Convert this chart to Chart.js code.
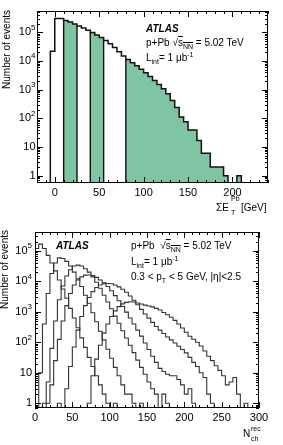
<!DOCTYPE html>
<html>
<head>
<meta charset="utf-8">
<script src="https://cdn.jsdelivr.net/npm/chart.js@4.4.1/dist/chart.umd.min.js"></script>
<style>
  body { margin: 0; background: #fff; }
  #wrap { position: relative; width: 283px; height: 445px; overflow: hidden;
          font-family: "Liberation Sans", Arial, Helvetica, sans-serif; color: #000; }
  canvas { position: absolute; left: 0; }
  .t { position: absolute; font-size: 10px; line-height: 12px; white-space: nowrap; }
  .t sub, .t sup { font-size: 7px; line-height: 0; }
  .s7 { font-size: 7px; line-height: 8px; }
  .atlas { font-weight: bold; font-style: italic; }
  .ov { text-decoration: overline; }
  .ytitle { position: absolute; width: 100px; text-align: right; font-size: 10px; line-height: 12px;
            white-space: nowrap; transform-origin: 0 0; transform: rotate(-90deg); }
</style>
</head>
<body>
<div id="wrap">
  <canvas id="topChart" width="283" height="220" style="top:0"></canvas>
  <canvas id="bottomChart" width="283" height="225" style="top:220px"></canvas>

  <!-- top panel labels -->
  <div class="t atlas" style="left:146px; top:23px">ATLAS</div>
  <div class="t" style="left:146px; top:37px">p+Pb √<span class="ov">s<sub>NN</sub></span> = 5.02 TeV</div>
  <div class="t" style="left:146px; top:52px">L<sub>int</sub>= 1 μb<sup>-1</sup></div>
  <div class="ytitle" style="left:1px; top:110px">Number of events</div>
  <div class="t" style="left:216px; top:202px">ΣE</div>
  <div class="t s7" style="left:231px; top:195px">Pb</div>
  <div class="t s7" style="left:231px; top:209px">T</div>
  <div class="t" style="left:241px; top:202px">[GeV]</div>

  <!-- bottom panel labels -->
  <div class="t atlas" style="left:56px; top:240px">ATLAS</div>
  <div class="t" style="left:131px; top:240px">p+Pb &nbsp;√<span class="ov">s<sub>NN</sub></span> = 5.02 TeV</div>
  <div class="t" style="left:131px; top:256px">L<sub>int</sub>= 1 μb<sup>-1</sup></div>
  <div class="t" style="left:131px; top:271px">0.3 &lt; p<sub>T</sub> &lt; 5 GeV, |η|&lt;2.5</div>
  <div class="ytitle" style="left:-1px; top:330px">Number of events</div>
  <div class="t" style="left:243px; top:428px">N</div>
  <div class="t s7" style="left:251px; top:425px">rec</div>
  <div class="t s7" style="left:251px; top:435px">ch</div>
</div>

<script>
/* top panel: sum ET (Pb side), 5 GeV bins, lower edges */
const etEdges = [-5, 0, 5, 10, 15, 20, 25, 30, 35, 40, 45, 50, 55, 60, 65, 70, 75, 80, 85, 90, 95,
  100, 105, 110, 115, 120, 125, 130, 135, 140, 145, 150, 155, 160, 165, 170, 175, 180, 185, 190, 195, 200, 205];
const etCounts = [22000, 300000, 300000,
  260000, 230000, 195000, 166000, 141000, 117000, 98000, 81000, 66000, 52000,
  40000, 29500, 21000, 15000, 11200, 8700, 6800, 5100, 3900, 2900,
  2100, 1500, 1070, 720, 420, 240, 112, 76, 39, 39,
  17, 6, 6, 2, 2, 2, 1, 0, 0, 1];
// shaded centrality intervals
const etGreen = [[10, 25], [40, 55], [80, 210]];
const etTicks = [0, 50, 100, 150, 200];

/* bottom panel: N_ch^rec per centrality interval, 5-wide bins */
const nchEdges = [0, 5, 10, 15, 20, 25, 30, 35, 40, 45, 50, 55, 60, 65, 70, 75, 80, 85, 90, 95,
  100, 105, 110, 115, 120, 125, 130, 135, 140, 145, 150, 155, 160, 165, 170, 175, 180, 185, 190, 195,
  200, 205, 210, 215, 220, 225, 230, 235, 240, 245, 250, 255, 260, 265, 270, 275, 280, 285, 290, 295];
const nch1 = [120000, 166000, 120000, 71000, 40000, 22000, 11000, 5600, 2800, 1300,
  630, 300, 140, 68, 32, 16, 8, 4, 2, 1,
  0, 1, 0, 0, 0, 0, 0, 0, 0, 0,
  0, 0, 0, 0, 0, 0, 0, 0, 0, 0,
  0, 0, 0, 0, 0, 0, 0, 0, 0, 0,
  0, 0, 0, 0, 0, 0, 0, 0, 0, 0];
const nch2 = [0, 10, 400, 4000, 18000, 40000, 59000, 56000, 45000, 32000,
  20000, 12000, 6800, 3500, 1900, 930, 470, 230, 120, 59,
  30, 15, 8, 4, 2, 2, 1, 0, 1, 0,
  0, 0, 0, 0, 0, 0, 0, 0, 0, 0,
  0, 0, 0, 0, 0, 0, 0, 0, 0, 0,
  0, 0, 0, 0, 0, 0, 0, 0, 0, 0];
const nch3 = [0, 0, 1, 5, 63, 500, 2500, 7000, 15000, 24000,
  32000, 34000, 32000, 26000, 20000, 14000, 9300, 5900, 3500, 2100,
  1260, 720, 420, 240, 138, 80, 46, 26, 15, 9,
  5, 3, 2, 0, 2, 1, 0, 0, 0, 0,
  0, 0, 0, 0, 0, 0, 0, 0, 0, 0,
  0, 0, 0, 0, 0, 0, 0, 0, 0, 0];
const nch4 = [0, 0, 0, 1, 4, 25, 125, 500, 1600, 4000,
  7600, 11000, 14000, 16000, 16200, 15500, 13500, 11000, 8900, 6800,
  4900, 3400, 2300, 1500, 980, 630, 400, 250, 160, 95,
  58, 35, 22, 14, 11, 9, 8, 8, 6, 4,
  2, 3, 1, 0, 0, 0, 0, 0, 0, 0,
  0, 0, 0, 0, 0, 0, 0, 0, 0, 0];
const nch5 = [0, 0, 0, 0, 0, 0, 1, 0, 3, 16,
  70, 250, 700, 1600, 2950, 4600, 6300, 7600, 8300, 8500,
  8300, 7600, 6600, 5500, 4400, 3300, 2400, 1700, 1200, 850,
  620, 450, 330, 250, 195, 150, 120, 95, 74, 58,
  45, 32, 22, 16, 10, 7, 2, 1, 0, 0,
  0, 0, 0, 0, 0, 0, 0, 0, 0, 0];
const nch6 = [0, 0, 0, 0, 0, 0, 0, 0, 0, 0,
  0, 0, 0, 0, 1, 8, 28, 80, 200, 400,
  700, 1070, 1480, 1820, 2040, 2140, 2090, 1950, 1800, 1660,
  1560, 1450, 1300, 1150, 950, 800, 660, 525, 400, 295,
  214, 158, 126, 100, 76, 52, 35, 25, 17, 12,
  8, 4, 5, 7, 2, 0, 1, 0, 0, 0];
const nchSeries = [nch1, nch2, nch3, nch4, nch5, nch6];
const nchTicks = [0, 50, 100, 150, 200, 250, 300];

const logTicks = [1, 10, 100, 1000, 10000, 100000];

const FONT = '"Liberation Sans", Arial, Helvetica, sans-serif';
const FLOOR = 0.1; // empty bins sit below the axis and get clipped
const BIN = 5;

function stepPoints(edges, vals) {
  const pts = [{ x: edges[0], y: FLOOR }];
  edges.forEach((e, i) => pts.push({ x: e, y: vals[i] > 0 ? vals[i] : FLOOR }));
  pts.push({ x: edges[edges.length - 1] + BIN, y: FLOOR });
  return pts;
}

function regionPoints(edges, vals, a, b) {
  const pts = [];
  let last = FLOOR;
  edges.forEach((e, i) => {
    if (e >= a && e < b) {
      last = vals[i] > 0 ? vals[i] : FLOOR;
      pts.push({ x: e, y: last });
    }
  });
  pts.push({ x: b, y: last });
  return pts;
}

/* ROOT-like frame: inward ticks on all four sides, 10^n labels */
const rootFrame = {
  id: 'rootFrame',
  afterDraw(chart, args, opts) {
    const { ctx, chartArea: a, scales: { x, y } } = chart;
    ctx.save();
    ctx.strokeStyle = '#000';
    ctx.lineWidth = 1;
    ctx.beginPath();
    for (let v = opts.xStart; v <= x.max; v += opts.xMinor) {
      const px = Math.round(x.getPixelForValue(v)) + 0.5;
      const len = opts.xTicks.includes(v) ? 6 : 3;
      ctx.moveTo(px, a.bottom); ctx.lineTo(px, a.bottom - len);
      ctx.moveTo(px, a.top); ctx.lineTo(px, a.top + len);
    }
    for (let k = -1; k <= 5; k++) {
      for (let m = 1; m <= 9; m++) {
        const v = m * Math.pow(10, k);
        if (v < y.min || v > y.max) continue;
        const py = Math.round(y.getPixelForValue(v)) + 0.5;
        const len = m === 1 ? 6 : 3;
        ctx.moveTo(a.left, py); ctx.lineTo(a.left + len, py);
        ctx.moveTo(a.right, py); ctx.lineTo(a.right - len, py);
      }
    }
    ctx.stroke();
    ctx.strokeRect(a.left + 0.5, a.top + 0.5, a.right - a.left - 1, a.bottom - a.top - 1);

    ctx.fillStyle = '#000';
    ctx.textBaseline = 'middle';
    ctx.textAlign = 'right';
    const right = a.left - opts.labelGap;
    logTicks.forEach(v => {
      const py = y.getPixelForValue(v);
      const e = Math.round(Math.log10(v));
      ctx.font = '11px ' + FONT;
      if (e < 2) {
        ctx.fillText(String(v), right, py);
      } else {
        ctx.font = '8px ' + FONT;
        const w = ctx.measureText(String(e)).width;
        ctx.fillText(String(e), right, py - 5);
        ctx.font = '11px ' + FONT;
        ctx.fillText('10', right - w, py);
      }
    });
    ctx.restore();
  }
};

function baseOptions(xMin, xMax, xTicks, yMin, yMax, pad, leftW, bottomH, frameOpts) {
  return {
    responsive: false,
    animation: false,
    events: [],
    layout: { padding: pad },
    elements: { point: { radius: 0 }, line: { tension: 0 } },
    plugins: { legend: { display: false }, tooltip: { enabled: false }, rootFrame: frameOpts },
    scales: {
      x: {
        type: 'linear', min: xMin, max: xMax,
        afterBuildTicks: s => { s.ticks = xTicks.map(v => ({ value: v })); },
        afterFit: s => { s.height = bottomH; },
        grid: { display: false, drawTicks: false },
        border: { display: false },
        ticks: { color: '#000', font: { family: FONT, size: 11 }, padding: 3, maxRotation: 0, autoSkip: false }
      },
      y: {
        type: 'logarithmic', min: yMin, max: yMax,
        afterBuildTicks: s => { s.ticks = logTicks.map(v => ({ value: v })); },
        afterFit: s => { s.width = leftW; },
        grid: { display: false, drawTicks: false },
        border: { display: false },
        ticks: { display: false }
      }
    }
  };
}

/* top chart */
const topDatasets = [{
  data: stepPoints(etEdges, etCounts),
  stepped: true, borderColor: '#111', borderWidth: 1.5, fill: false, order: 0
}];
const edgeLines = [];
etGreen.forEach(([a, b]) => {
  [a, b].forEach(x => {
    const i = etEdges.indexOf(x);
    if (i < 0) return;
    edgeLines.push({ x, y: FLOOR }, { x, y: etCounts[i] }, { x, y: null });
  });
});
topDatasets.push({ data: edgeLines, borderColor: '#111', borderWidth: 1.4, fill: false, spanGaps: false, order: 1 });
etGreen.forEach(([a, b]) => {
  topDatasets.push({
    data: regionPoints(etEdges, etCounts, a, b),
    stepped: true, borderWidth: 0, borderColor: 'rgba(0,0,0,0)',
    backgroundColor: '#80c5a3', fill: 'start', order: 2
  });
});

new Chart(document.getElementById('topChart'), {
  type: 'line',
  data: { datasets: topDatasets },
  options: baseOptions(-20, 240, etTicks, Math.pow(10, -0.255), Math.pow(10, 5.743),
    { left: 0, right: 15, top: 11, bottom: 0 }, 37, 37,
    { xStart: -20, xMinor: 10, xTicks: etTicks, labelGap: 1.5 }),
  plugins: [rootFrame]
});

/* bottom chart */
new Chart(document.getElementById('bottomChart'), {
  type: 'line',
  data: {
    datasets: nchSeries.map(vals => ({
      data: stepPoints(nchEdges, vals),
      stepped: true, borderColor: '#333', borderWidth: 1.1, fill: false
    }))
  },
  options: baseOptions(0, 300, nchTicks, Math.pow(10, -0.13), Math.pow(10, 5.618),
    { left: 0, right: 24, top: 12, bottom: 0 }, 35, 37,
    { xStart: 0, xMinor: 10, xTicks: nchTicks, labelGap: 3 }),
  plugins: [rootFrame]
});
</script>
</body>
</html>
